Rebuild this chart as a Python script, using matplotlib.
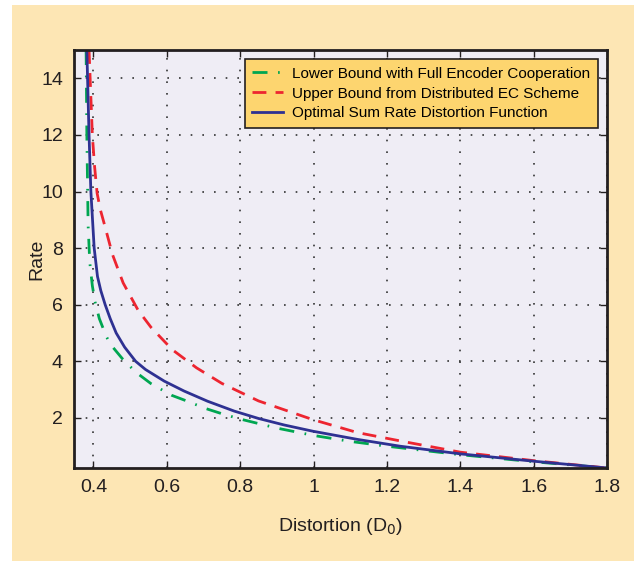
import matplotlib
matplotlib.use("Agg")
import matplotlib.pyplot as plt
from matplotlib.patches import Rectangle

plt.rcParams['font.family'] = ['Liberation Sans', 'DejaVu Sans']

d_lower = [0.380, 0.382, 0.384, 0.3855, 0.390, 0.397, 0.404, 0.416, 0.435, 0.447,
           0.479, 0.516, 0.557, 0.613, 0.656, 0.704, 0.752, 0.800, 0.900, 1.000,
           1.100, 1.200, 1.400, 1.600, 1.800]
r_lower = [15.0, 12.0, 10.2, 8.8, 7.5, 6.67, 6.12, 5.51, 4.88, 4.59,
           4.09, 3.61, 3.21, 2.80, 2.59, 2.34, 2.14, 1.96, 1.64, 1.38,
           1.17, 1.00, 0.70, 0.45, 0.23]

d_upper = [0.388, 0.391, 0.397, 0.403, 0.410, 0.419, 0.429, 0.452, 0.481, 0.522,
           0.557, 0.615, 0.681, 0.750, 0.850, 0.998, 1.120, 1.255, 1.400, 1.600,
           1.800]
r_upper = [15.0, 14.0, 12.0, 10.9, 9.94, 9.35, 8.88, 7.77, 6.77, 5.80,
           5.20, 4.41, 3.77, 3.22, 2.60, 1.94, 1.48, 1.14, 0.79, 0.49,
           0.23]

d_opt = [0.382, 0.384, 0.388, 0.393, 0.402, 0.411, 0.420, 0.432, 0.446, 0.462,
         0.485, 0.515, 0.542, 0.593, 0.647, 0.711, 0.784, 0.850, 0.920, 0.998,
         1.120, 1.236, 1.400, 1.600, 1.800]
r_opt = [15.0, 14.0, 12.0, 10.0, 8.0, 7.0, 6.5, 6.0, 5.5, 5.0,
         4.5, 4.0, 3.71, 3.30, 2.95, 2.59, 2.24, 1.98, 1.75, 1.53,
         1.24, 1.00, 0.73, 0.47, 0.23]

labels = ['Lower Bound with Full Encoder Cooperation',
          'Upper Bound from Distributed EC Scheme',
          'Optimal Sum Rate Distortion Function']
xticks = [0.4, 0.6, 0.8, 1.0, 1.2, 1.4, 1.6, 1.8]
xticklabels = ['0.4', '0.6', '0.8', '1', '1.2', '1.4', '1.6', '1.8']
yticks = [2, 4, 6, 8, 10, 12, 14]

fig = plt.figure(figsize=(6.34, 5.61), dpi=100)
fig.patch.set_facecolor('white')
# beige panel behind everything
fig.add_artist(Rectangle((12 / 634, 0), 1 - 12 / 634, 1 - 5 / 561,
                         transform=fig.transFigure, facecolor='#fde6b4',
                         edgecolor='none', zorder=-10))

ax = fig.add_axes([74 / 634, 1 - 468 / 561, (607 - 74) / 634, (468 - 50) / 561])
ax.set_zorder(1)
ax.set_facecolor('#efedf5')

ax.plot(d_lower, r_lower, color='#00a651', lw=2.0, dashes=(5.4, 3.8, 0.6, 3.8),
        label=labels[0])
ax.plot(d_upper, r_upper, color='#ed2530', lw=2.0, dashes=(5, 3.3),
        label=labels[1])
ax.plot(d_opt, r_opt, color='#2e3192', lw=2.0, label=labels[2])

ax.set_xlim(0.347, 1.8)
ax.set_ylim(0.23, 15)
ax.set_xticks(xticks)
ax.set_xticklabels(xticklabels)
ax.set_yticks(yticks)
ax.tick_params(direction='in', length=5, width=1, labelsize=14,
               top=True, right=True, pad=8, colors='#231f20')
ax.grid(True, color='#333333', linestyle=(0, (1, 6)), linewidth=1.2)

for s in ax.spines.values():
    s.set_linewidth(2)
    s.set_color('#231f20')

ax.set_xlabel('Distortion (D$_0$)', fontsize=14, color='#231f20', labelpad=14)
ax.set_ylabel('Rate', fontsize=14, color='#231f20', labelpad=-3)

leg = ax.legend(loc='upper right', fontsize=11, frameon=True, fancybox=False,
                handlelength=2.0, borderpad=0.5, labelspacing=0.38,
                handletextpad=0.6, borderaxespad=0.6)
leg.get_frame().set_facecolor('#fdd56f')
leg.get_frame().set_edgecolor('#231f20')
leg.get_frame().set_linewidth(1.2)
leg.get_frame().set_alpha(1)

fig.savefig('out.png', dpi=100, facecolor=fig.get_facecolor())
